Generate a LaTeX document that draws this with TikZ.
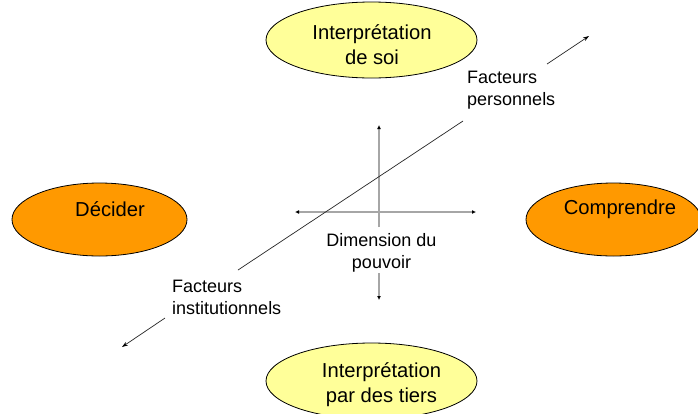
\documentclass[tikz,border=0pt]{standalone}
\usepackage{fontspec}
\setmainfont{Liberation Sans}
\usetikzlibrary{arrows.meta,shapes.geometric}
\definecolor{paleyellow}{HTML}{FFFF99}
\definecolor{orangefill}{HTML}{FF9900}
\definecolor{axisgray}{HTML}{A6A6A6}
\begin{document}
\begin{tikzpicture}[x=1pt,y=-1pt,
  oval/.style={ellipse,draw=black,line width=0.8pt,inner sep=0pt},
  yellowoval/.style={oval,fill=paleyellow,minimum width=211pt,minimum height=76pt},
  orangeoval/.style={oval,fill=orangefill,minimum width=175pt,minimum height=73pt},
  bigtext/.style={font=\fontsize{20.2}{25}\selectfont,align=center},
  smalltext/.style={font=\fontsize{18}{22}\selectfont,inner sep=0pt},
  axisline/.style={draw=axisgray,line width=1.4pt,-{Latex[length=4pt,width=4pt,black]}},
  diagline/.style={draw=black!85,line width=0.7pt},
  diagarrow/.style={diagline,-{Stealth[length=6pt,width=4pt,black]}}]
\useasboundingbox (0,0) rectangle (698,413);
\fill[white] (0,0) rectangle (698,413);

% ellipses
\node[yellowoval,label={[bigtext,yshift=-4.5pt,xshift=0.5pt]center:Interprétation\\de soi}] (soi) at (371.5,40) {};
\node[yellowoval,label={[bigtext,yshift=-4pt,xshift=10pt]center:Interprétation\\par des tiers}] (tiers) at (371.5,381) {};
\node[orangeoval,label={[bigtext,xshift=10.5pt,yshift=10.5pt]center:Décider}] (decider) at (99.5,219.5) {};
\node[orangeoval,label={[bigtext,xshift=6.5pt,yshift=10.5pt]center:Comprendre}] (comprendre) at (613.5,219.5) {};

% labels
\node[smalltext,align=left,anchor=west] (perso) at (467,90) {Facteurs\\personnels};
\node[smalltext,align=left,anchor=west] (instit) at (172,297) {Facteurs\\institutionnels};
\node[smalltext,align=center] (pouvoir) at (381.5,253) {Dimension du\\pouvoir};

% axis coordinates
\coordinate (vtop) at (379,125);
\coordinate (vmid) at (379,227);
\coordinate (vlow) at (379,273);
\coordinate (vbot) at (379,300);
\coordinate (hleft) at (295,212);
\coordinate (hright) at (476,212);

% diagonal coordinates
\coordinate (dtr) at (589,36);
\coordinate (dg1) at (547,64);
\coordinate (dg2) at (463,121);
\coordinate (dg3) at (238,270);
\coordinate (dg4) at (165,318);
\coordinate (dbl) at (122,347);

% axes
\draw[axisline] (vmid) -- (vtop);
\draw[axisline] (vlow) -- (vbot);
\draw[axisline,{Latex[length=4pt,width=4pt,black]}-{Latex[length=4pt,width=4pt,black]}] (hleft) -- (hright);

% diagonal
\draw[diagarrow] (dg1) -- (dtr);
\draw[diagline] (dg2) -- (dg3);
\draw[diagarrow] (dg4) -- (dbl);
\end{tikzpicture}
\end{document}
